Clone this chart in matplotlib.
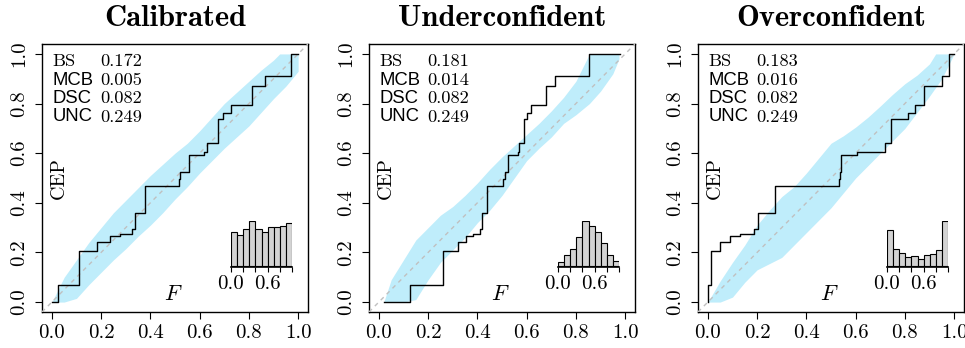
import matplotlib
matplotlib.use("Agg")
import matplotlib.pyplot as plt

plt.rcParams["mathtext.fontset"] = "cm"
plt.rcParams["font.family"] = "serif"
plt.rcParams["font.serif"] = ["cmr10"]
plt.rcParams["axes.formatter.use_mathtext"] = True

titles = ["Calibrated", "Underconfident", "Overconfident"]

# statistics shown in the upper-left corner
stat_names = ["BS", "MCB", "DSC", "UNC"]
stat_values = [["0.172", "0.005", "0.082", "0.249"],
               ["0.181", "0.014", "0.082", "0.249"],
               ["0.183", "0.016", "0.082", "0.249"]]

tick_vals = [0.0, 0.2, 0.4, 0.6, 0.8, 1.0]
tick_labels = ["0.0", "0.2", "0.4", "0.6", "0.8", "1.0"]

# CEP step levels (same in all three panels)
cep_levels = [0.0, 0.069, 0.204, 0.244, 0.265, 0.273, 0.294, 0.358, 0.467, 0.497,
              0.524, 0.594, 0.603, 0.641, 0.737, 0.760, 0.796, 0.872, 0.912, 1.0]

# forecast value at which each CEP level starts, plus the right end
cal_x = [0.0, 0.024, 0.109, 0.183, 0.237, 0.277, 0.327, 0.337, 0.380, 0.517,
         0.522, 0.556, 0.618, 0.630, 0.676, 0.694, 0.727, 0.813, 0.864, 0.970, 1.0]
und_x = [0.019, 0.128, 0.259, 0.320, 0.354, 0.383, 0.412, 0.418, 0.441, 0.506,
         0.511, 0.526, 0.564, 0.567, 0.588, 0.601, 0.619, 0.677, 0.717, 0.853, 0.978]
ovr_x = [0.0, 0.002, 0.014, 0.048, 0.090, 0.131, 0.189, 0.204, 0.274, 0.532,
         0.537, 0.542, 0.606, 0.721, 0.742, 0.812, 0.841, 0.879, 0.951, 0.979, 1.0]

# consistency band
cal_bx = [0.0, 0.05, 0.10, 0.15, 0.20, 0.25, 0.30, 0.35, 0.40, 0.45, 0.50,
          0.55, 0.60, 0.65, 0.70, 0.75, 0.80, 0.85, 0.90, 0.925, 0.95, 1.0]
cal_hi = [0.0, 0.10, 0.17, 0.24, 0.30, 0.36, 0.41, 0.46, 0.51, 0.555, 0.60,
          0.64, 0.69, 0.745, 0.80, 0.845, 0.89, 0.935, 0.975, 1.0, 1.0, 1.0]
cal_lo = [0.0, 0.0, 0.015, 0.07, 0.12, 0.17, 0.215, 0.265, 0.31, 0.36, 0.415,
          0.465, 0.52, 0.57, 0.62, 0.665, 0.71, 0.765, 0.82, 0.845, 0.87, 0.93]

und_bx = [0.02, 0.05, 0.10, 0.15, 0.20, 0.25, 0.30, 0.35, 0.40, 0.45, 0.50,
          0.55, 0.60, 0.65, 0.70, 0.75, 0.80, 0.855, 0.90, 0.95, 0.975]
und_hi = [0.0, 0.09, 0.17, 0.25, 0.30, 0.35, 0.385, 0.43, 0.48, 0.535, 0.585,
          0.63, 0.675, 0.72, 0.77, 0.825, 0.89, 1.0, 1.0, 1.0, 1.0]
und_lo = [0.0, 0.0, 0.0, 0.01, 0.09, 0.16, 0.21, 0.26, 0.32, 0.37, 0.43,
          0.50, 0.57, 0.62, 0.665, 0.72, 0.755, 0.80, 0.85, 0.92, 0.98]

ovr_bx = [0.0, 0.05, 0.10, 0.15, 0.20, 0.25, 0.30, 0.35, 0.40, 0.45, 0.50,
          0.55, 0.60, 0.65, 0.70, 0.75, 0.80, 0.85, 0.90, 0.925, 0.95, 1.0]
ovr_hi = [0.0, 0.085, 0.16, 0.23, 0.31, 0.37, 0.425, 0.465, 0.52, 0.58, 0.64,
          0.67, 0.705, 0.745, 0.79, 0.837, 0.88, 0.915, 0.96, 1.0, 1.0, 1.0]
ovr_lo = [0.0, 0.0, 0.02, 0.08, 0.13, 0.155, 0.18, 0.23, 0.28, 0.33, 0.38,
          0.44, 0.50, 0.55, 0.60, 0.65, 0.70, 0.765, 0.83, 0.865, 0.90, 1.0]

# inset histograms of forecast values (10 bins on [0, 1])
hist_edges = [0.0, 0.1, 0.2, 0.3, 0.4, 0.5, 0.6, 0.7, 0.8, 0.9, 1.0]
cal_hist = [102, 91, 109, 135, 109, 101, 117, 115, 119, 127]
und_hist = [11, 31, 51, 85, 135, 120, 101, 68, 31, 13]
ovr_hist = [109, 50, 37, 27, 29, 19, 31, 34, 47, 136]
hist_tick_labels = ["0.0", "", "", "0.6", "", ""]

panels = [(cal_x, cal_bx, cal_lo, cal_hi, cal_hist),
          (und_x, und_bx, und_lo, und_hi, und_hist),
          (ovr_x, ovr_bx, ovr_lo, ovr_hi, ovr_hist)]

W, H = 965, 348
fig = plt.figure(figsize=(W / 100, H / 100), dpi=100)
lefts = [42, 369, 698]

for i, (sx, bx, blo, bhi, hcounts) in enumerate(panels):
    ax = fig.add_axes([lefts[i] / W, 36 / H, 266 / W, 268 / H])
    ax.set_xlim(-0.04, 1.04)
    ax.set_ylim(-0.04, 1.04)

    ax.fill_between(bx, blo, bhi, color="#bfedfb", lw=0, zorder=2)
    ax.axline((0, 0), (1, 1), color="#c0c0c0", lw=1.0, ls=(0, (3, 3)), zorder=3)
    ax.plot(sx, cep_levels + [cep_levels[-1]], drawstyle="steps-post",
            color="black", lw=1.0, zorder=4)

    ax.set_xticks(tick_vals)
    ax.set_xticklabels(tick_labels)
    ax.set_yticks(tick_vals)
    ax.set_yticklabels(tick_labels)
    ax.tick_params(length=5, width=0.8, labelsize=15, pad=4)
    ax.tick_params(axis="y", pad=5)
    for lbl in ax.get_yticklabels():
        lbl.set_rotation(90)
        lbl.set_va("center")
    for sp in ax.spines.values():
        sp.set_linewidth(1.0)

    ax.text(0.5, 1.097, titles[i], transform=ax.transAxes, ha="center", va="center",
            fontsize=22, family="cmb10")

    rows = [0.934, 0.865, 0.797, 0.728]
    for name, val, yy in zip(stat_names, stat_values[i], rows):
        fam = "cmr10" if name == "BS" else "Liberation Sans"
        ax.text(0.039, yy, name, transform=ax.transAxes, ha="left", va="center",
                fontsize=13.3, family=fam)
        ax.text(0.22, yy, val, transform=ax.transAxes, ha="left", va="center",
                fontsize=13.3, family="cmr10")

    ax.text(0.027, 0.5, "CEP", rotation=90, ha="center", va="center", fontsize=14.5)
    ax.text(0.495, 0.03, r"$F$", ha="center", va="center", fontsize=16)

    ins = ax.inset_axes([0.71, 0.168, 0.231, 0.173])
    ins.bar(hist_edges[:-1], hcounts, width=0.1, align="edge", color="#d3d3d3",
            edgecolor="black", linewidth=0.8)
    ins.set_xlim(0, 1)
    ins.set_ylim(-0.03 * max(hcounts), max(hcounts))
    ins.patch.set_alpha(0)
    for s in ["top", "right", "left"]:
        ins.spines[s].set_visible(False)
    ins.spines["bottom"].set_linewidth(1.2)
    ins.set_yticks([])
    ins.set_xticks(tick_vals)
    ins.set_xticklabels(hist_tick_labels)
    ins.tick_params(axis="x", length=3.5, width=0.8, labelsize=15, pad=2)

fig.savefig("out.png", dpi=100)
